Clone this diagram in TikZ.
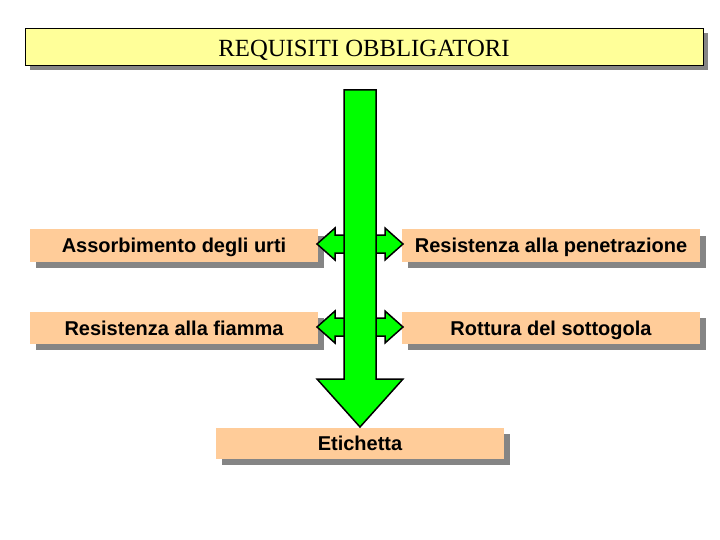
\documentclass[tikz,border=0pt]{standalone}
\usepackage{fontspec}
\setmainfont{Liberation Serif}
\setsansfont{Liberation Sans}
\usetikzlibrary{shadows}
\definecolor{peach}{HTML}{FFCC99}
\definecolor{paleyellow}{HTML}{FFFF99}
\definecolor{shadowgray}{HTML}{858585}
\definecolor{arrowgreen}{HTML}{00FF00}
\tikzset{
  titlebox/.style={draw=black, line width=0.8pt, fill=paleyellow, minimum width=678pt, minimum height=37pt, inner sep=0pt,
    font=\fontsize{24.7}{26}\selectfont, text height=19.4pt, text depth=0pt,
    general shadow={fill=shadowgray, shadow xshift=5pt, shadow yshift=-5pt}},
  itembox/.style={fill=peach, minimum height=32pt, inner sep=0pt,
    font=\sffamily\bfseries\fontsize{20}{22}\selectfont, text height=14.3pt, text depth=0pt,
    general shadow={fill=shadowgray, shadow xshift=6pt, shadow yshift=-6pt}},
  greenarrow/.style={fill=arrowgreen, draw=black, line width=1.5pt, line join=miter}
}
\begin{document}
\begin{tikzpicture}[x=1pt, y=-1pt]
\useasboundingbox (0,0) rectangle (720,540);
\node[titlebox] (title) at (364,46.5) {REQUISITI OBBLIGATORI};
\node[itembox, minimum width=288pt] (urti) at (174,245.5) {Assorbimento degli urti};
\node[itembox, minimum width=288pt] (fiamma) at (174,328) {Resistenza alla fiamma};
\node[itembox, minimum width=298pt] (penetr) at (551,245.5) {Resistenza alla penetrazione};
\node[itembox, minimum width=298pt] (sottog) at (551,328) {Rottura del sottogola};
\node[itembox, minimum width=288pt, minimum height=31pt] (etich) at (360,443.5) {Etichetta};
% double arrows
\foreach \yc in {244,327}{
  \draw[greenarrow] (317,\yc) -- ++(18,-16) -- ++(0,7) -- ++(50,0) -- ++(0,-7) -- ++(18,16)
    -- ++(-18,16) -- ++(0,-7) -- ++(-50,0) -- ++(0,7) -- cycle;
}
% main vertical arrow
\coordinate (top) at (360,90);
\draw[greenarrow] (344,90) -- (376,90) -- (376,379) -- (403,379) -- (360,427) -- (317,379) -- (344,379) -- cycle;
\end{tikzpicture}
\end{document}
